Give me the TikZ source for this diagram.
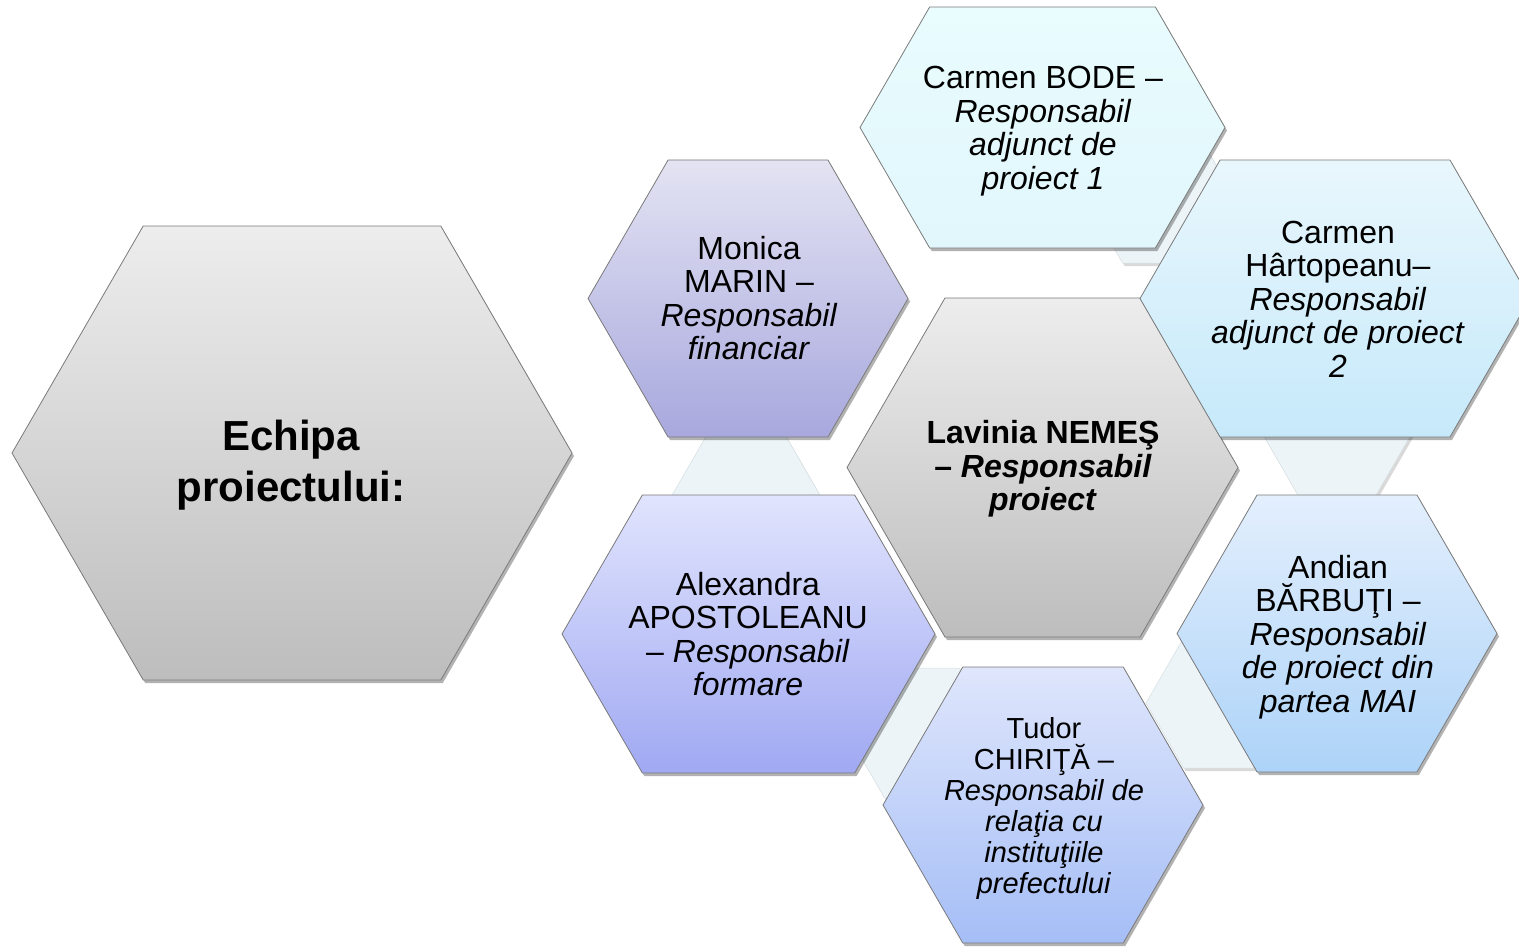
\documentclass[tikz,border=0pt]{standalone}
\usepackage{fontspec}
\setmainfont{Liberation Sans}
\usetikzlibrary{shadows}
\definecolor{hexline}{HTML}{7A7A7A}
\definecolor{grayT}{HTML}{EDEDED}
\definecolor{grayB}{HTML}{BDBDBD}
\definecolor{monT}{HTML}{E3E3F3}
\definecolor{monB}{HTML}{A8A8DE}
\definecolor{alxT}{HTML}{E1E4FD}
\definecolor{alxB}{HTML}{A0A9F2}
\definecolor{tudT}{HTML}{DFE6FC}
\definecolor{tudB}{HTML}{A5BEF6}
\definecolor{andT}{HTML}{E3EFFD}
\definecolor{andB}{HTML}{ADD3F8}
\definecolor{chT}{HTML}{E9F7FD}
\definecolor{chB}{HTML}{C6E9FA}
\definecolor{cbT}{HTML}{E9FCFE}
\definecolor{cbB}{HTML}{E1F7FC}
\definecolor{paleC}{HTML}{EDF4F7}
\definecolor{paleL}{HTML}{D5DEE2}
\newcommand{\hexshp}[5]{%
  \path[#1] ({#2-#4/2},{#3}) -- ({#2-#4/2+0.289*#5},{#3-#5/2}) -- ({#2+#4/2-0.289*#5},{#3-#5/2}) -- ({#2+#4/2},{#3}) -- ({#2+#4/2-0.289*#5},{#3+#5/2}) -- ({#2-#4/2+0.289*#5},{#3+#5/2}) -- cycle;}
\begin{document}
\begin{tikzpicture}[x=1pt,y=-1pt,
  hexbase/.style={draw=hexline, line width=0.8pt, line join=round,
    drop shadow={shadow xshift=2pt, shadow yshift=-3pt, opacity=0.3, fill=black}},
  grayhex/.style={hexbase, top color=grayT, bottom color=grayB},
  monhex/.style={hexbase, top color=monT, bottom color=monB},
  alxhex/.style={hexbase, top color=alxT, bottom color=alxB},
  tudhex/.style={hexbase, top color=tudT, bottom color=tudB},
  andhex/.style={hexbase, top color=andT, bottom color=andB},
  chhex/.style={hexbase, top color=chT, bottom color=chB},
  cbhex/.style={hexbase, top color=cbT, bottom color=cbB},
  palehex/.style={fill=paleC, draw=paleL, line width=0.5pt,
    drop shadow={shadow xshift=2pt, shadow yshift=-3pt, opacity=0.15, fill=black}},
  txt/.style={align=center, inner sep=0pt, text=black, font=\fontsize{32}{33.5}\selectfont}]
\useasboundingbox (0,0) rectangle (1519,947);
\clip (0,0) rectangle (1519,947);
% pale transition hexagons
\hexshp{palehex}{1160}{198}{150}{130}
\hexshp{palehex}{746}{497}{150}{130}
\hexshp{palehex}{1337}{433}{150}{130}
\hexshp{palehex}{1221}{703}{150}{130}
\hexshp{palehex}{922}{733}{150}{130}
% main hexagons
\hexshp{grayhex}{292}{453}{560}{454}
\hexshp{cbhex}{1042.5}{127.5}{365}{241}
\hexshp{monhex}{748}{298.5}{320}{277}
\hexshp{grayhex}{1042.5}{467.5}{391}{339}
\hexshp{chhex}{1335}{298.5}{390}{277}
\hexshp{alxhex}{748.5}{634}{373}{278}
\hexshp{andhex}{1337}{633.5}{320}{277}
\hexshp{tudhex}{1043}{805}{320}{276}
% texts
\node[txt, font=\bfseries\fontsize{42}{51}\selectfont] (echipa) at (291,465) {Echipa\\proiectului:};
\node[txt] (bode) at (1043,131) {Carmen BODE –\\\textit{Responsabil}\\\textit{adjunct de}\\\textit{proiect 1}};
\node[txt] (monica) at (749,298) {Monica\\MARIN –\\\textit{Responsabil}\\\textit{financiar}};
\node[txt, font=\bfseries\fontsize{32}{33.5}\selectfont] (lavinia) at (1043,469) {Lavinia NEMEŞ\\– \textit{Responsabil}\\\textit{proiect}};
\node[txt] (hartopeanu) at (1338,299) {Carmen\\Hârtopeanu–\\\textit{Responsabil}\\\textit{adjunct de proiect}\\\textit{2}};
\node[txt] (alexandra) at (748,634) {Alexandra\\APOSTOLEANU\\– \textit{Responsabil}\\\textit{formare}};
\node[txt] (andian) at (1338,637) {Andian\\BĂRBUŢI –\\\textit{Responsabil}\\\textit{de proiect din}\\\textit{partea MAI}};
\node[txt, font=\fontsize{29}{31}\selectfont] (tudor) at (1044,808) {Tudor\\CHIRIŢĂ –\\\textit{Responsabil de}\\\textit{relaţia cu}\\\textit{instituţiile}\\\textit{prefectului}};
\end{tikzpicture}
\end{document}
